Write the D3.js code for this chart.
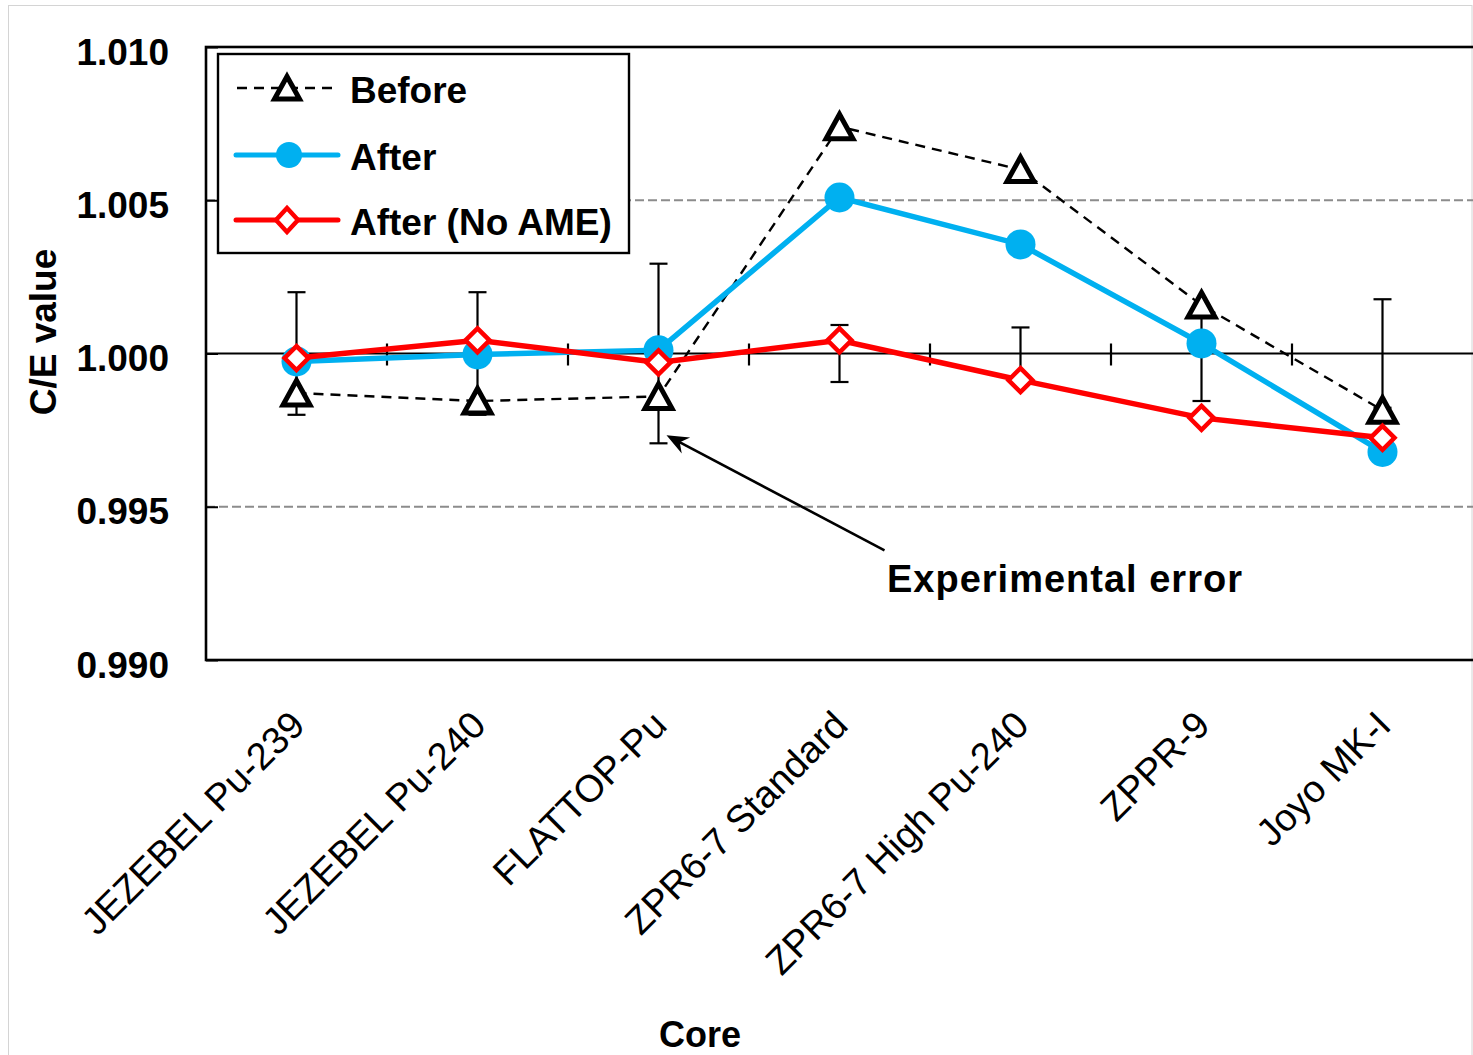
<!DOCTYPE html>
<html>
<head>
<meta charset="utf-8">
<script src="https://cdn.jsdelivr.net/npm/d3@7"></script>
<style>
  html, body { margin: 0; padding: 0; background: #fff; }
  svg { display: block; }
  text { font-family: "Liberation Sans", Arial, sans-serif; fill: #000; }
</style>
</head>
<body>
<svg id="chart" width="1473" height="1055"></svg>
<script>
// Cores on the horizontal axis
const cores = ["JEZEBEL Pu-239", "JEZEBEL Pu-240", "FLATTOP-Pu", "ZPR6-7 Standard",
               "ZPR6-7 High Pu-240", "ZPPR-9", "Joyo MK-I"];

// C/E values per core
const before    = [0.99871, 0.99845, 0.99860, 1.00740, 1.00600, 1.00158, 0.99815];
const after     = [0.99974, 0.99997, 1.00011, 1.00509, 1.00356, 1.00033, 0.99679];
const afterNoAME = [0.99985, 1.00043, 0.99971, 1.00043, 0.99913, 0.99790, 0.99725];

// Experimental uncertainty (half-width), drawn around C/E = 1
const expError = [0.00200, 0.00200, 0.00293, 0.00093, 0.00085, 0.00155, 0.00177];

// Y axis ticks
const yTicks = [0.990, 0.995, 1.000, 1.005, 1.010];
const yTickLabels = ["0.990", "0.995", "1.000", "1.005", "1.010"];

const legendLabels = ["Before", "After", "After (No AME)"];

const BLUE = "#00B0F0", RED = "#FF0000";

const svg = d3.select("#chart");

// frame of the chart area
svg.append("rect").attr("x", 8.5).attr("y", 5.5).attr("width", 1463.5).attr("height", 1070)
  .attr("fill", "none").attr("stroke", "#d4d4d4").attr("stroke-width", 1);

const plot = { left: 206, right: 1473, top: 47, bottom: 660 };

const x = d3.scaleBand().domain(cores).range([plot.left, plot.right]).padding(0);
const cx = d => x(d) + x.bandwidth() / 2;
const y = d3.scaleLinear().domain([0.990, 1.010]).range([plot.bottom, plot.top]);

// dashed gridlines
svg.append("g").selectAll("line").data([0.995, 1.005]).join("line")
  .attr("x1", plot.left).attr("x2", plot.right)
  .attr("y1", d => y(d)).attr("y2", d => y(d))
  .attr("stroke", "#8c8c8c").attr("stroke-width", 2.2).attr("stroke-dasharray", "9,4");

// plot border
svg.append("rect").attr("x", plot.left).attr("y", plot.top)
  .attr("width", plot.right - plot.left + 3).attr("height", plot.bottom - plot.top)
  .attr("fill", "none").attr("stroke", "#000").attr("stroke-width", 2.6);

// y axis with inward ticks
const yAxis = d3.axisLeft(y).tickValues(yTicks).tickSize(-12).tickFormat((d, i) => yTickLabels[i]);
const gy = svg.append("g").attr("transform", `translate(${plot.left},0)`).call(yAxis);
gy.select(".domain").remove();
gy.selectAll(".tick line").attr("stroke", "#000").attr("stroke-width", 2);
gy.selectAll(".tick text")
  .attr("x", -37).attr("dy", null).attr("y", 17)
  .style("font-family", '"Liberation Sans", Arial, sans-serif')
  .style("font-size", "37px").style("font-weight", "bold").attr("fill", "#000");

// horizontal axis crossing at C/E = 1, ticks at category boundaries
const boundaries = d3.range(0, cores.length + 1).map(i => plot.left + i * x.bandwidth());
const y1 = y(1.0);
svg.append("line").attr("x1", plot.left).attr("x2", plot.right)
  .attr("y1", y1).attr("y2", y1).attr("stroke", "#000").attr("stroke-width", 2.2);
svg.append("g").selectAll("line").data(boundaries.slice(1, -1)).join("line")
  .attr("x1", d => d).attr("x2", d => d)
  .attr("y1", y1 - 10).attr("y2", y1 + 12)
  .attr("stroke", "#000").attr("stroke-width", 2.2);

// category labels, rotated
svg.append("g").selectAll("text").data(cores).join("text")
  .attr("transform", d => `translate(${cx(d) + 1},${718}) rotate(-45)`)
  .attr("text-anchor", "end").attr("dy", "0.35em")
  .style("font-size", "38px")
  .text(d => d);

// axis titles
svg.append("text").attr("x", 700).attr("y", 1047).attr("text-anchor", "middle")
  .style("font-size", "36px").style("font-weight", "bold").text("Core");
svg.append("text").attr("transform", "translate(56,332) rotate(-90)").attr("text-anchor", "middle")
  .style("font-size", "37px").style("font-weight", "bold").text("C/E value");

// experimental error bars
const eb = svg.append("g").attr("stroke", "#000").attr("stroke-width", 2.2);
cores.forEach((c, i) => {
  const xc = cx(c), yt = y(1 + expError[i]), yb = y(1 - expError[i]);
  eb.append("line").attr("x1", xc).attr("x2", xc).attr("y1", yt).attr("y2", yb);
  eb.append("line").attr("x1", xc - 9).attr("x2", xc + 9).attr("y1", yt).attr("y2", yt);
  eb.append("line").attr("x1", xc - 9).attr("x2", xc + 9).attr("y1", yb).attr("y2", yb);
});

// marker shapes
const triPath = "M0,-12.5L13.5,12L-13.5,12Z";
const diaPath = "M0,-12L12,0L0,12L-12,0Z";

const line = d3.line().x((d, i) => cx(cores[i])).y(d => y(d));

// Before
svg.append("path").datum(before).attr("d", line).attr("fill", "none")
  .attr("stroke", "#000").attr("stroke-width", 2.4).attr("stroke-dasharray", "10,7");
svg.append("g").selectAll("path").data(before).join("path")
  .attr("transform", (d, i) => `translate(${cx(cores[i])},${y(d)})`)
  .attr("d", triPath).attr("fill", "#fff").attr("stroke", "#000").attr("stroke-width", 5);

// After
svg.append("path").datum(after).attr("d", line).attr("fill", "none")
  .attr("stroke", BLUE).attr("stroke-width", 5.5);
svg.append("g").selectAll("circle").data(after).join("circle")
  .attr("cx", (d, i) => cx(cores[i])).attr("cy", d => y(d)).attr("r", 15).attr("fill", BLUE);

// After (No AME)
svg.append("path").datum(afterNoAME).attr("d", line).attr("fill", "none")
  .attr("stroke", RED).attr("stroke-width", 5.5);
svg.append("g").selectAll("path").data(afterNoAME).join("path")
  .attr("transform", (d, i) => `translate(${cx(cores[i])},${y(d)})`)
  .attr("d", diaPath).attr("fill", "#fff").attr("stroke", RED).attr("stroke-width", 4.5);

// annotation pointing at the FLATTOP-Pu error bar
const tipX = cx(cores[2]) + 8, tipY = y(1 - expError[2]) - 8;
const tailX = tipX + 218, tailY = tipY + 115;
const ang = Math.atan2(tipY - tailY, tipX - tailX);
const headLen = 22, headHalf = 9, notch = 7;
svg.append("line").attr("x1", tailX).attr("y1", tailY)
  .attr("x2", tipX - Math.cos(ang) * 12).attr("y2", tipY - Math.sin(ang) * 12)
  .attr("stroke", "#000").attr("stroke-width", 2.6);
{
  const ux = Math.cos(ang), uy = Math.sin(ang), px = -uy, py = ux;
  const bx = tipX - ux * headLen, by = tipY - uy * headLen;
  const nx = tipX - ux * (headLen - notch), ny = tipY - uy * (headLen - notch);
  svg.append("path")
    .attr("d", `M${tipX},${tipY}L${bx + px * headHalf},${by + py * headHalf}L${nx},${ny}L${bx - px * headHalf},${by - py * headHalf}Z`)
    .attr("fill", "#000");
}
svg.append("text").attr("x", 887).attr("y", 592)
  .style("font-size", "38px").style("font-weight", "bold").style("letter-spacing", "1px")
  .text("Experimental error");

// legend
const lg = svg.append("g");
lg.append("rect").attr("x", 218).attr("y", 54).attr("width", 411).attr("height", 199)
  .attr("fill", "#fff").attr("stroke", "#000").attr("stroke-width", 2.4);
const rows = [88, 155, 220];
// Before
lg.append("line").attr("x1", 237).attr("x2", 334).attr("y1", rows[0]).attr("y2", rows[0])
  .attr("stroke", "#000").attr("stroke-width", 2.4).attr("stroke-dasharray", "10,7");
lg.append("path").attr("transform", `translate(287,${rows[0]})`).attr("d", "M0,-11.5L12.5,11L-12.5,11Z")
  .attr("fill", "#fff").attr("stroke", "#000").attr("stroke-width", 5);
// After
lg.append("line").attr("x1", 236).attr("x2", 338).attr("y1", rows[1]).attr("y2", rows[1])
  .attr("stroke", BLUE).attr("stroke-width", 5).attr("stroke-linecap", "round");
lg.append("circle").attr("cx", 289).attr("cy", rows[1]).attr("r", 13).attr("fill", BLUE);
// After (No AME)
lg.append("line").attr("x1", 236).attr("x2", 338).attr("y1", rows[2]).attr("y2", rows[2])
  .attr("stroke", RED).attr("stroke-width", 5).attr("stroke-linecap", "round");
lg.append("path").attr("transform", `translate(287,${rows[2]})`).attr("d", "M0,-12L11,0L0,12L-11,0Z")
  .attr("fill", "#fff").attr("stroke", RED).attr("stroke-width", 4.5);
lg.selectAll("text.lab").data(legendLabels).join("text").attr("class", "lab")
  .attr("x", 350).attr("y", (d, i) => rows[i] + 15)
  .style("font-size", "37px").style("font-weight", "bold").text(d => d);
</script>
</body>
</html>
